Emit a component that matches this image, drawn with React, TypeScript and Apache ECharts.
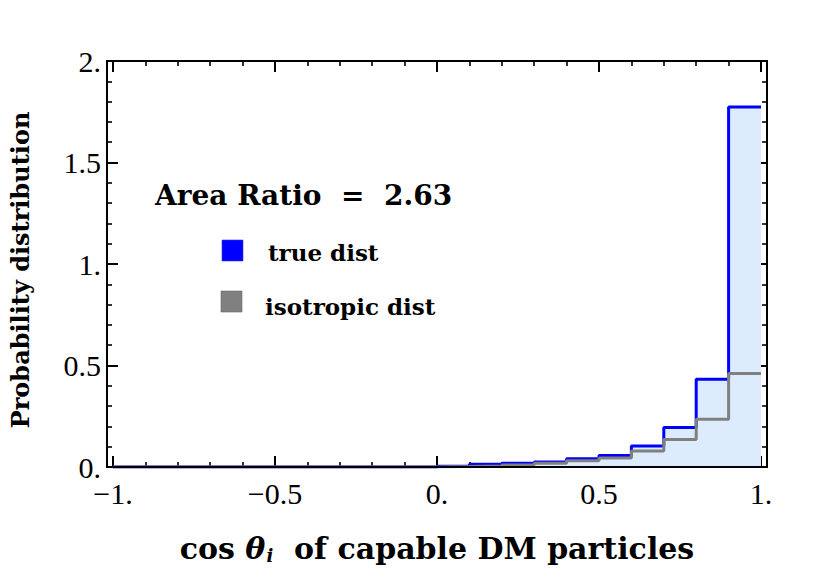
import React, { useEffect, useRef } from "react";
import * as echarts from "echarts";

const binEdges = [-1.0, -0.9, -0.8, -0.7, -0.6, -0.5, -0.4, -0.3, -0.2, -0.1, 0.0, 0.1, 0.2, 0.3, 0.4, 0.5, 0.6, 0.7, 0.8, 0.9, 1.0];
const trueDist = [0, 0, 0, 0, 0, 0, 0, 0, 0, 0, 0.004, 0.013, 0.018, 0.025, 0.041, 0.057, 0.103, 0.195, 0.432, 1.773];
const isoDist = [0, 0, 0, 0, 0, 0, 0, 0, 0, 0, 0.002, 0.005, 0.010, 0.018, 0.031, 0.044, 0.079, 0.136, 0.235, 0.461];
const xTickLabels: Record<string, string> = { "-1": "−1.", "-0.5": "−0.5", "0": "0.", "0.5": "0.5", "1": "1." };
const yTickLabels: Record<string, string> = { "0": "0.", "0.5": "0.5", "1": "1.", "1.5": "1.5", "2": "2." };
const areaRatioText = "Area Ratio  =  2.63";
const legendNames = ["true dist", "isotropic dist"];

function stepData(vals: number[]) {
  const d: number[][] = vals.map((v, i) => [binEdges[i], v]);
  d.push([binEdges[binEdges.length - 1], vals[vals.length - 1]]);
  return d;
}

export default function App() {
  const ref = useRef<HTMLDivElement>(null);
  useEffect(() => {
    if (!ref.current) return;
    const chart = echarts.init(ref.current, null, { renderer: "svg" });
    const L = 113, R = 761, T = 61, B = 467;
    const tickFont = { fontFamily: "Liberation Serif", fontSize: 30, lineHeight: 22, color: "#000" };
    const axTick = { show: true, inside: true, length: 11, lineStyle: { color: "#000", width: 2 } };
    const minTick = { show: true, splitNumber: 5, length: 5, lineStyle: { color: "#000", width: 1.6 } };
    const noLine = { show: false, onZero: false };
    const boldFont = "DejaVu Serif";
    chart.setOption({
      animation: false,
      grid: { left: L, right: 830 - R, top: T, bottom: 578 - B },
      xAxis: [
        {
          type: "value", min: -1, max: 1, interval: 0.5, position: "bottom",
          axisLine: noLine, splitLine: { show: false },
          axisTick: axTick, minorTick: minTick,
          axisLabel: { ...tickFont, margin: 15, formatter: (v: number) => xTickLabels[String(v)] ?? String(v) },
        },
        {
          type: "value", min: -1, max: 1, interval: 0.5, position: "top",
          axisLine: noLine, splitLine: { show: false },
          axisTick: axTick, minorTick: minTick, axisLabel: { show: false },
        },
      ],
      yAxis: [
        {
          type: "value", min: 0, max: 2, interval: 0.5, position: "left", offset: 6,
          axisLine: noLine, splitLine: { show: false },
          axisTick: axTick, minorTick: minTick,
          axisLabel: { ...tickFont, margin: 6, formatter: (v: number) => yTickLabels[String(v)] ?? String(v) },
        },
        {
          type: "value", min: 0, max: 2, interval: 0.5, position: "right", offset: 6,
          axisLine: noLine, splitLine: { show: false },
          axisTick: axTick, minorTick: minTick, axisLabel: { show: false },
        },
      ],
      series: [
        {
          name: legendNames[0], type: "line", step: "end", xAxisIndex: 0, yAxisIndex: 0,
          data: stepData(trueDist), symbol: "none",
          lineStyle: { color: "#0000ff", width: 3 },
          areaStyle: { color: "#ddecfc", opacity: 1 },
          z: 2,
        },
        {
          name: legendNames[1], type: "line", step: "end", xAxisIndex: 0, yAxisIndex: 0,
          data: stepData(isoDist), symbol: "none",
          lineStyle: { color: "#808080", width: 3 },
          z: 3,
        },
      ],
      graphic: [
        {
          type: "rect", shape: { x: 107, y: T, width: 767 - 107, height: B - T },
          style: { fill: "none", stroke: "#000", lineWidth: 2 }, z: 10, silent: true,
        },
        {
          type: "text", x: 155, y: 195,
          style: { text: areaRatioText, font: `bold 28px "${boldFont}"`, fill: "#000", verticalAlign: "middle" },
          z: 11,
        },
        {
          type: "rect", shape: { x: 222, y: 240, width: 21, height: 21 },
          style: { fill: "#0000ff", stroke: "#3a3ad0", lineWidth: 0.6 }, z: 11,
        },
        {
          type: "text", x: 268, y: 252,
          style: { text: legendNames[0], font: `bold 23px "${boldFont}"`, fill: "#000", verticalAlign: "middle" },
          z: 11,
        },
        {
          type: "rect", shape: { x: 221, y: 291, width: 21, height: 21 },
          style: { fill: "#808080", stroke: "#6a6a6a", lineWidth: 0.6 }, z: 11,
        },
        {
          type: "text", x: 265, y: 306,
          style: { text: legendNames[1], font: `bold 23px "${boldFont}"`, fill: "#000", verticalAlign: "middle" },
          z: 11,
        },
        {
          type: "text", x: 20, y: 270, rotation: Math.PI / 2,
          style: {
            text: "Probability distribution", font: `bold 24px "${boldFont}"`, fill: "#000",
            align: "center", verticalAlign: "middle",
          },
          z: 11,
        },
        {
          type: "text", x: 437, y: 548,
          style: {
            text: "{n|cos }{it|θ}{sub|i}{n|  of capable DM particles}",
            align: "center", verticalAlign: "middle", fill: "#000",
            rich: {
              n: { fontFamily: boldFont, fontWeight: "bold", fontSize: 30, color: "#000" },
              it: { fontFamily: boldFont, fontWeight: "bold", fontStyle: "italic", fontSize: 30, color: "#000" },
              sub: { fontFamily: boldFont, fontWeight: "bold", fontStyle: "italic", fontSize: 18, color: "#000", padding: [14, 0, 0, 1] },
            },
          },
          z: 11,
        },
      ],
    });
    return () => chart.dispose();
  }, []);
  return <div ref={ref} style={{ width: 830, height: 578, position: "absolute", left: 0, top: 0 }} />;
}
